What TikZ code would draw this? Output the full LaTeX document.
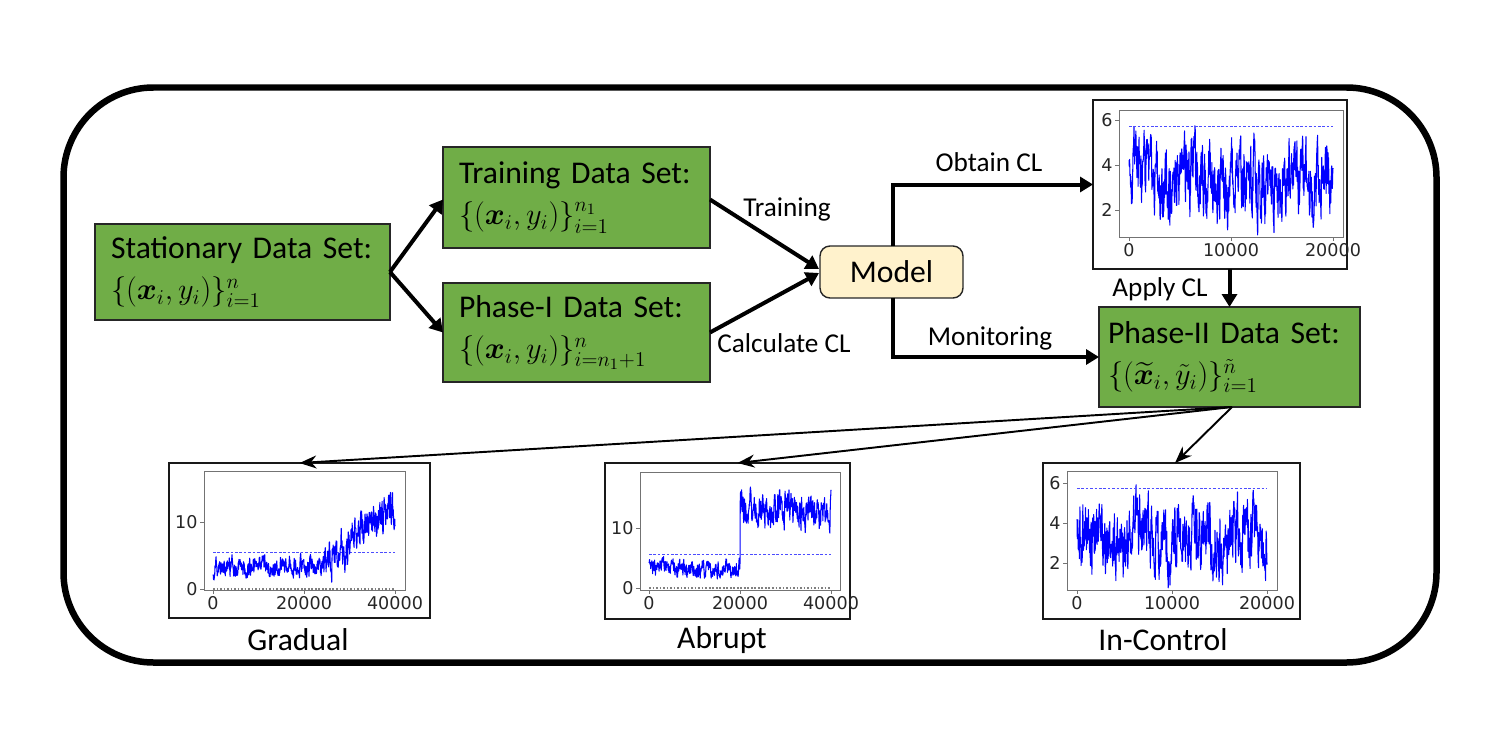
\documentclass[tikz,border=0pt]{standalone}
\usepackage{amsmath,bm}
\usepackage{fontspec}
\setmainfont{Carlito}
\newfontfamily\tickfont{DejaVu Sans}
\usetikzlibrary{arrows.meta,calc}
\definecolor{boxgreen}{HTML}{70AD47}
\definecolor{modelfill}{HTML}{FFF2CC}
\definecolor{seriesblue}{HTML}{0000FF}

% #1 N, #2 x px at t=0, #3 x px at t=1, #4 y px at value 0, #5 px per unit,
% #6 mean expr (of \myt), #7 noise expr (of \myt), #8 AR coefficient
\newcommand\mkseries[8]{%
  \gdef\sprev{0}%
  \gdef\spath{}%
  \foreach \si in {0,...,#1}{%
    \pgfmathsetmacro\myt{\si/#1}%
    \pgfmathsetmacro\se{(\sprev)*#8+(#7)*rand}%
    \pgfmathsetmacro\spx{#2+(#3-#2)*\myt}%
    \pgfmathsetmacro\spy{#4-#5*((#6)+(\se))}%
    \xdef\sprev{\se}%
    \ifnum\si=0 \xdef\spath{(\spx,\spy)}\else\xdef\spath{\spath--(\spx,\spy)}\fi
  }%
  \draw[series] \spath;%
}
\newcommand\ytk[3]{\draw[axisline] (#1,#2) -- ++(-4,0) node[ticklab,anchor=east]{#3};}
\newcommand\xtk[3]{\draw[axisline] (#1,#2) -- ++(0,4) node[ticklab,anchor=north]{#3};}

\begin{document}
\begin{tikzpicture}[x=0.02cm,y=-0.02cm,
  gbox/.style={draw=black!85, line width=0.8pt, fill=boxgreen, align=left,
    inner xsep=0.32cm, inner ysep=0pt, outer sep=0pt,
    font=\fontsize{18}{23.5}\selectfont},
  modelbox/.style={draw=black!85, line width=0.8pt, fill=modelfill, rounded corners=0.2cm,
    inner sep=0pt, outer sep=0pt, font=\fontsize{18}{22}\selectfont},
  pframe/.style={draw=black!90, line width=0.8pt, inner sep=0pt, outer sep=0pt},
  elab/.style={inner sep=0pt, font=\fontsize{15.5}{18}\selectfont},
  blab/.style={inner sep=0pt, font=\fontsize{18}{22}\selectfont},
  bigarrow/.style={line width=0.08cm, -{Triangle[length=2.6mm,width=3mm]}},
  thinarrow/.style={line width=1.1pt, -{Stealth[length=3.4mm,width=2.6mm]}},
  axisline/.style={draw=black!55, line width=0.5pt},
  ticklab/.style={inner sep=0.04cm, font=\tickfont\fontsize{10}{12}\selectfont, text=black!85},
  series/.style={draw=seriesblue, line width=0.6pt, line join=round},
  cldash/.style={draw=blue!70, line width=0.5pt, dash pattern=on 1.5pt off 1pt},
  zerodot/.style={draw=black!50, line width=0.6pt, dash pattern=on 1pt off 1pt}
]
\useasboundingbox (0,0) rectangle (1500,750);

% outer frame
\draw[line width=0.13cm, rounded corners=1.8cm] (63.5,87.5) rectangle (1436.5,662.5);

% boxes
\node[gbox, minimum width=5.9cm, minimum height=1.92cm, text width=5.26cm] (stat) at (242.5,272)
  {Stationary Data Set:\\$\{(\bm{x}_i,y_i)\}_{i=1}^{n}$};
\node[gbox, minimum width=5.34cm, minimum height=2.02cm, text width=4.7cm] (train) at (576.5,197.5)
  {Training Data Set:\\$\{(\bm{x}_i,y_i)\}_{i=1}^{n_1}$};
\node[gbox, minimum width=5.34cm, minimum height=1.98cm, text width=4.7cm] (phase1) at (576.5,332.5)
  {Phase-I Data Set:\\$\{(\bm{x}_i,y_i)\}_{i=n_1+1}^{n}$};
\node[modelbox, minimum width=2.86cm, minimum height=1.04cm] (model) at (891.5,272) {Model};
\node[gbox, minimum width=5.22cm, minimum height=2.0cm, text width=4.86cm, inner xsep=0.18cm] (phase2) at (1229.5,357)
  {Phase-II Data Set:\\$\{(\widetilde{\bm{x}}_i,\tilde{y}_i)\}_{i=1}^{\tilde{n}}$};

% plot frames
\node[pframe, minimum width=5.08cm, minimum height=3.38cm] (pTR) at (1220,184.5) {};
\node[pframe, minimum width=5.22cm, minimum height=3.1cm] (pG) at (299.5,540.5) {};
\node[pframe, minimum width=4.9cm, minimum height=3.12cm] (pA) at (727.5,541) {};
\node[pframe, minimum width=5.14cm, minimum height=3.12cm] (pI) at (1171.5,541) {};

% ---------- top-right plot (Phase I) ----------
\begin{scope}
  \clip (1119,110) rectangle (1343,237);
  \pgfmathsetseed{11}
  \mkseries{650}{1129}{1333}{255}{22.5}{3.35+0.35*sin(\myt*1500)}{1.3}{0.6}
  \draw[cldash] (1129,126) -- (1333,126);
\end{scope}
\draw[axisline] (1119,110) rectangle (1343,237);
\ytk{1119}{210}{2}\ytk{1119}{165}{4}\ytk{1119}{120}{6}
\xtk{1129}{237}{0}\xtk{1231}{237}{10000}\xtk{1333}{237}{20000}

% ---------- Gradual ----------
\begin{scope}
  \clip (204,471) rectangle (405,590);
  \pgfmathsetseed{23}
  \draw[cldash] (213,552) -- (395,552);
  \draw[zerodot] (213,589) -- (395,589);
  \mkseries{650}{213}{395}{589}{6.7}{3.3+(\myt>0.6)*(\myt-0.6)*23.5}{1.15+(\myt>0.6)*1.0}{0.6}
\end{scope}
\draw[axisline] (204,471) rectangle (405,590);
\ytk{204}{589}{0}\ytk{204}{522}{10}
\xtk{213}{590}{0}\xtk{304}{590}{20000}\xtk{395}{590}{40000}

% ---------- Abrupt ----------
\begin{scope}
  \clip (640,472) rectangle (840,590);
  \pgfmathsetseed{37}
  \draw[cldash] (649,554) -- (831,554);
  \draw[zerodot] (649,588) -- (831,588);
  \mkseries{650}{649}{831}{588}{6}{3.3+(\myt>0.5)*9.8}{1.15+(\myt>0.5)*1.0}{0.6}
\end{scope}
\draw[axisline] (640,472) rectangle (840,590);
\ytk{640}{588}{0}\ytk{640}{528}{10}
\xtk{649}{590}{0}\xtk{740}{590}{20000}\xtk{831}{590}{40000}

% ---------- In-Control ----------
\begin{scope}
  \clip (1067,471) rectangle (1277,590);
  \pgfmathsetseed{51}
  \mkseries{650}{1077}{1267}{603}{20}{3.3+0.35*sin(\myt*1300+40)}{1.3}{0.6}
  \draw[cldash] (1077,488) -- (1267,488);
\end{scope}
\draw[axisline] (1067,471) rectangle (1277,590);
\ytk{1067}{563}{2}\ytk{1067}{523}{4}\ytk{1067}{483}{6}
\xtk{1077}{590}{0}\xtk{1172}{590}{10000}\xtk{1267}{590}{20000}

% ---------- connectors ----------
\draw[bigarrow] (stat.east) -- ($(train.west)+(0,2)$);
\draw[bigarrow] (stat.east) -- (phase1.west);
\draw[bigarrow] ($(train.east)+(0,2)$) -- ($(model.west)+(-1,-3)$);
\draw[bigarrow] (phase1.east) -- ($(model.west)+(-1,1)$);
\draw[bigarrow] ($(model.north)+(1.5,0)$) |- (pTR.west);
\draw[bigarrow] ($(model.south)+(1.5,0)$) |- (phase2.west);
\draw[bigarrow] (phase2.north |- pTR.south) -- (phase2.north);

\coordinate (fan) at ($(phase2.south)+(2.5,0)$);
\draw[thinarrow] (fan) -- (pG.north);
\draw[thinarrow] (fan) -- ($(pA.north)+(10,0)$);
\draw[thinarrow] (fan) -- ($(pI.north)+(3.5,0)$);

% labels
\node[elab] (lTrain) at (787,209) {Training};
\node[elab] (lCalc) at (784,343) {Calculate CL};
\node[elab] (lObtain) at (989,162) {Obtain CL};
\node[elab] (lMon) at (990,338) {Monitoring};
\node[elab] (lApply) at (1160,289) {Apply CL};
\node[blab] (lG) at (298,640) {Gradual};
\node[blab] (lA) at (722,640) {Abrupt};
\node[blab] (lI) at (1163,640) {In-Control};
\end{tikzpicture}
\end{document}
